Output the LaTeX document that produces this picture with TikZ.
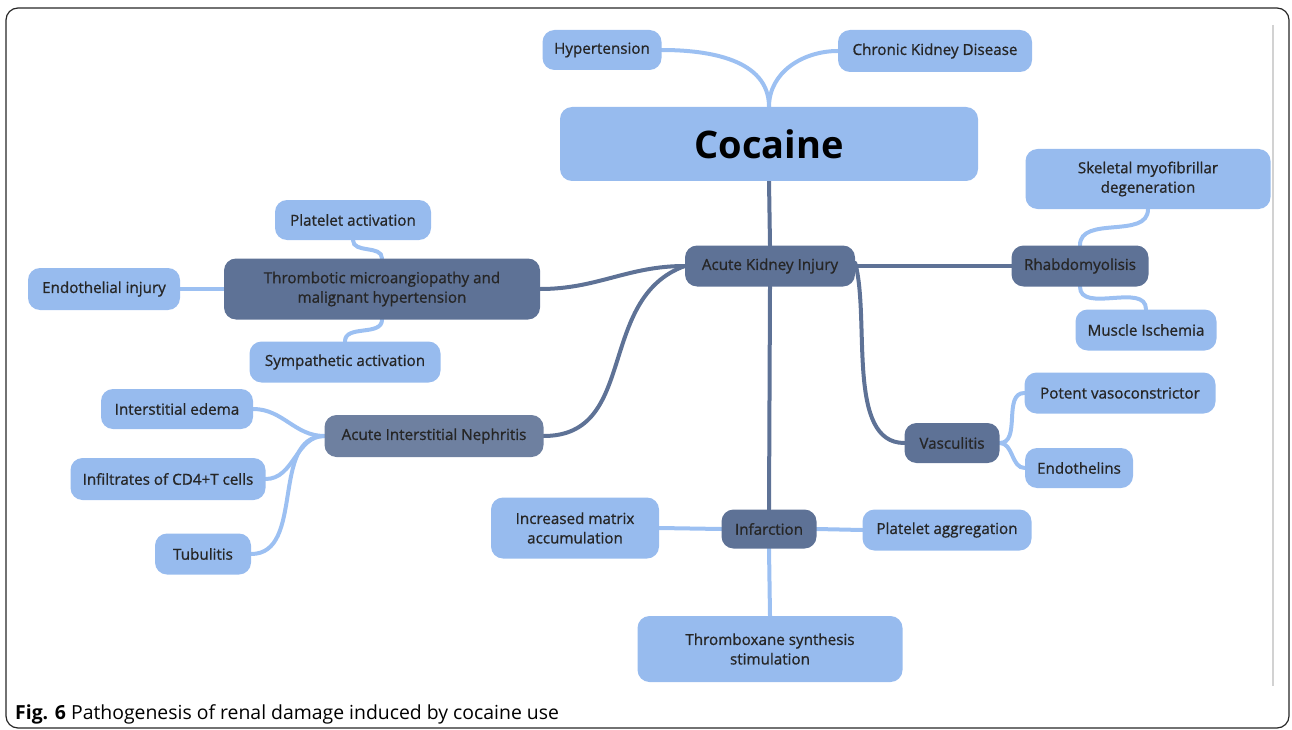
\documentclass[tikz,border=0pt]{standalone}
\usepackage{fontspec}
\setmainfont{Open Sans}
\newfontfamily\mapfont{Open Sans}[RawFeature={embolden=0.9}]
\usetikzlibrary{backgrounds}

\definecolor{leafblue}{HTML}{97BBEE}
\definecolor{hubblue}{HTML}{5E7296}
\definecolor{linkblue}{HTML}{9CC0F2}

\tikzset{
	leaf/.style={fill=leafblue, rounded corners=12pt, align=center, inner sep=2pt,
		font=\mapfont\fontsize{15.2}{19.5}\selectfont, text=black!85},
	hub/.style={leaf, fill=hubblue},
	light/.style={draw=linkblue, line width=4pt, line cap=round},
	dark/.style={draw=hubblue, line width=4pt, line cap=round}
}

\begin{document}
\begin{tikzpicture}[x=1pt, y=-1pt, line join=round]
	\useasboundingbox (0,0) rectangle (1292,730);
	\draw[line width=1.2pt, rounded corners=12pt, black!85] (6,8) rectangle (1289,728);
	\draw[gray!35, line width=2pt] (1273,25) -- (1273,686);
	% top
	\node[leaf, minimum width=418, minimum height=74, font=\fontsize{38}{44}\selectfont\bfseries, text=black] (coc) at (769,144) {Cocaine};
	\node[leaf, minimum width=119, minimum height=40] (hyp) at (602,50) {Hypertension};
	\node[leaf, minimum width=194, minimum height=42] (ckd) at (935,51) {Chronic Kidney Disease};
	\node[hub, minimum width=170, minimum height=41] (aki) at (770,266) {Acute Kidney Injury};
	% left
	\node[hub, minimum width=316, minimum height=61] (tma) at (382,289) {Thrombotic microangiopathy and\\malignant hypertension};
	\node[leaf, minimum width=156, minimum height=40] (pla) at (353,220) {Platelet activation};
	\node[leaf, minimum width=152, minimum height=42] (eni) at (104,289) {Endothelial injury};
	\node[leaf, minimum width=191, minimum height=41] (sym) at (345,362) {Sympathetic activation};
	\node[hub, fill=hubblue!90!white, minimum width=219, minimum height=42] (ain) at (434,436) {Acute Interstitial Nephritis};
	\node[leaf, minimum width=152, minimum height=40] (ied) at (177,409) {Interstitial edema};
	\node[leaf, minimum width=195, minimum height=42] (cd4) at (168,479) {Infiltrates of CD4+T cells};
	\node[leaf, minimum width=96, minimum height=41] (tub) at (203,554) {Tubulitis};
	% right
	\node[hub, minimum width=137, minimum height=41] (rha) at (1080,266) {Rhabdomyolisis};
	\node[leaf, minimum width=245, minimum height=60] (skm) at (1148,179) {Skeletal myofibrillar\\degeneration};
	\node[leaf, minimum width=141, minimum height=41] (mis) at (1146,330) {Muscle Ischemia};
	\node[hub, minimum width=95, minimum height=40] (vas) at (952,443) {Vasculitis};
	\node[leaf, minimum width=191, minimum height=41] (pvc) at (1120,393) {Potent vasoconstrictor};
	\node[leaf, minimum width=108, minimum height=40] (edt) at (1079,468) {Endothelins};
	% bottom
	\node[hub, minimum width=95, minimum height=39] (inf) at (769,529) {Infarction};
	\node[leaf, minimum width=168, minimum height=61] (inm) at (575,528) {Increased matrix\\accumulation};
	\node[leaf, minimum width=169, minimum height=41] (pag) at (947,530) {Platelet aggregation};
	\node[leaf, minimum width=265, minimum height=66] (txa) at (770,649) {Thromboxane synthesis\\stimulation};
	% caption
	\node[anchor=base west, inner sep=0pt, font=\fontsize{19.4}{22}\selectfont] (cap) at (15,719) {\textbf{Fig. 6} Pathogenesis of renal damage induced by cocaine use};

	\begin{scope}[on background layer]
		\draw[light] (hyp.east) to[out=0, in=90] (coc.north);
		\draw[light] (ckd.west) to[out=180, in=90] (coc.north);
		\draw[dark] (coc.south) -- (aki.north);
		\draw[dark] (aki.west) to[out=180, in=0] (tma.east);
		\draw[dark] (aki.west) to[out=200, in=0, looseness=1.1] (ain.east);
		\draw[dark] (aki.east) -- (rha.west);
		\draw[dark] ([yshift=3]aki.east) to[out=-75, in=180, looseness=0.8] (vas.west);
		\draw[dark] (aki.south) -- (inf.north);
		\draw[light] (tma.west) -- (eni.east);
		\draw[light] (tma.north) to[out=90, in=-90] (pla.south);
		\draw[light] (tma.south) to[out=-90, in=90] (sym.north);
		\draw[light] (ain.west) to[out=180, in=0] (ied.east);
		\draw[light] (ain.west) to[out=180, in=0] (cd4.east);
		\draw[light] (ain.west) to[out=180, in=0] (tub.east);
		\draw[light] (rha.north) to[out=90, in=-90] (skm.south);
		\draw[light] (rha.south) to[out=-90, in=90] (mis.north);
		\draw[light] (vas.east) to[out=0, in=180] (pvc.west);
		\draw[light] (vas.east) to[out=0, in=180] (edt.west);
		\draw[light] (inf.west) -- (inm.east);
		\draw[light] (inf.east) -- (pag.west);
		\draw[light] (inf.south) -- (txa.north);
	\end{scope}
\end{tikzpicture}
\end{document}
